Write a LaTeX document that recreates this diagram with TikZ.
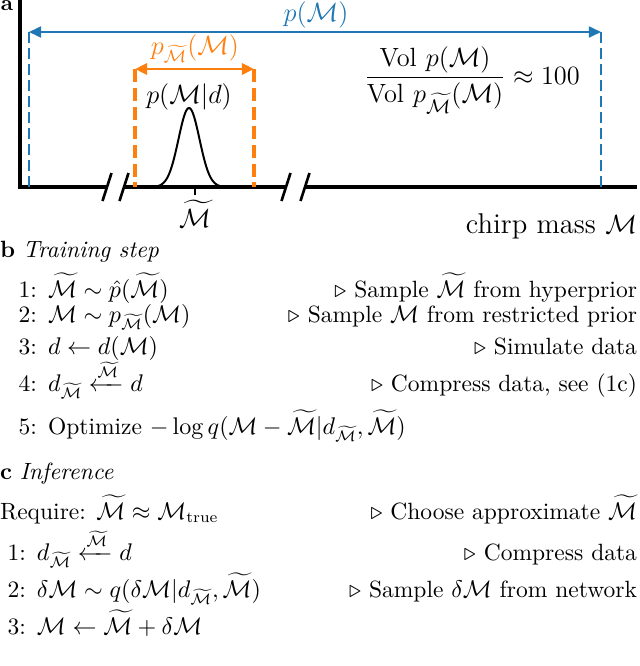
\documentclass[tikz,border=0pt]{standalone}
\usepackage{amsmath,amssymb}
\usetikzlibrary{arrows.meta}
\definecolor{mblue}{HTML}{1F77B4}
\definecolor{morange}{HTML}{FF7F0E}
\newcommand{\Mcal}{\mathcal{M}}
\newcommand{\Mtil}{\widetilde{\mathcal{M}}}
\tikzset{
  txt/.style={inner sep=0pt, outer sep=0pt},
  lft/.style={txt, anchor=base west},
  num/.style={txt, anchor=base east},
  cmt/.style={txt, anchor=base east},
  alg/.style={font=\fontsize{10.7}{13}\selectfont},
  plab/.style={font=\fontsize{11.5}{14}\selectfont},
  biglab/.style={font=\fontsize{13}{16}\selectfont},
  axisline/.style={line width=1.4pt},
  brk/.style={line width=1.2pt},
  bdash/.style={mblue, line width=0.9pt, dash pattern=on 5pt off 2.3pt},
  odash/.style={morange, line width=1.4pt, dash pattern=on 6pt off 2.6pt},
  tipA/.tip={Triangle[length=5.5pt,width=5pt]},
  barrow/.style={mblue, line width=0.9pt, tipA-tipA},
  oarrow/.style={morange, line width=1.35pt, tipA-tipA},
  curve/.style={line width=0.9pt},
}
\begin{document}
\begin{tikzpicture}[x=0.455pt,y=-0.455pt]
\useasboundingbox (0,0) rectangle (640,666);
% ---------- panel a ----------
\node[lft, font=\bfseries] (la) at (1,10) {a};
\coordinate (origin) at (20,187);
\coordinate (ytop) at (20,0);
\coordinate (xend) at (637,187);
\coordinate (g1a) at (107,187);
\coordinate (g1b) at (124,187);
\coordinate (g2a) at (286,187);
\coordinate (g2b) at (305,187);
\draw[axisline] (ytop) -- (origin) -- (g1a);
\draw[axisline] (g1b) -- (g2a);
\draw[axisline] (g2b) -- (xend);
\foreach \c in {g1a,g1b,g2a,g2b}{
  \draw[brk] ([shift={(-4.5,14)}]\c) -- ([shift={(4.5,-14)}]\c);
}
% blue prior
\coordinate (bL) at (29,32);
\coordinate (bR) at (601,32);
\coordinate (bLb) at (29,187);
\coordinate (bRb) at (601,187);
\draw[bdash] (bL) -- (bLb);
\draw[bdash] (bR) -- (bRb);
\draw[barrow] (bL) -- (bR);
\node[txt, plab, anchor=base, text=mblue] (pM) at (316,21) {$p(\Mcal)$};
% orange restricted prior
\coordinate (oL) at (135,69);
\coordinate (oR) at (254,69);
\coordinate (oLb) at (135,187);
\coordinate (oRb) at (254,187);
\draw[odash] (oL) -- (oLb);
\draw[odash] (oR) -- (oRb);
\draw[oarrow] (oL) -- (oR);
\node[txt, plab, anchor=base, text=morange] (pMt) at (195,54) {$p_{\Mtil}(\Mcal)$};
% gaussian
\draw[curve] plot[domain=152:226, samples=90] (\x,{187-79*exp(-((\x-189)/10.5)^2/2)});
\node[txt, plab, anchor=base] (post) at (189,103) {$p(\Mcal|d)$};
\coordinate (tk) at (195,187);
\coordinate (tkb) at (195,195);
\draw[line width=1pt] (tk) -- (tkb);
\node[txt, biglab, anchor=base] (mt) at (195,227) {$\Mtil$};
\node[txt, font=\fontsize{12.5}{15}\selectfont] (ratio) at (472,80)
  {$\displaystyle\frac{\mathrm{Vol}\ p(\Mcal)}{\mathrm{Vol}\ p_{\Mtil}(\Mcal)}\approx 100$};
\node[cmt, biglab] (chirp) at (637,233) {chirp mass $\Mcal$};
% ---------- panel b ----------
\begin{scope}[alg]
\node[lft] (tb) at (0,257) {\textbf{b} \textit{Training step}};
\node[num] (b1n) at (37,297) {1:};
\node[lft] (b1) at (48,297) {$\Mtil \sim \hat{p}(\Mtil)$};
\node[cmt] (b1c) at (637,297) {$\triangleright$ Sample $\Mtil$ from hyperprior};
\node[num] (b2n) at (37,322) {2:};
\node[lft] (b2) at (48,322) {$\Mcal \sim p_{\Mtil}(\Mcal)$};
\node[cmt] (b2c) at (637,322) {$\triangleright$ Sample $\Mcal$ from restricted prior};
\node[num] (b3n) at (37,354) {3:};
\node[lft] (b3) at (48,354) {$d \leftarrow d(\Mcal)$};
\node[cmt] (b3c) at (637,354) {$\triangleright$ Simulate data};
\node[num] (b4n) at (37,391) {4:};
\node[lft] (b4) at (48,391) {$d_{\Mtil} \xleftarrow{\Mtil} d$};
\node[cmt] (b4c) at (637,391) {$\triangleright$ Compress data, see (1c)};
\node[num] (b5n) at (37,434) {5:};
\node[lft] (b5) at (48,434) {Optimize $-\log q(\Mcal - \Mtil | d_{\Mtil}, \Mtil)$};
% ---------- panel c ----------
\node[lft] (tc) at (0,479) {\textbf{c} \textit{Inference}};
\node[lft] (c0) at (0,519) {Require: $\Mtil \approx \Mcal_{\mathrm{true}}$};
\node[cmt] (c0c) at (637,519) {$\triangleright$ Choose approximate $\Mtil$};
\node[num] (c1n) at (26,560) {1:};
\node[lft] (c1) at (37,560) {$d_{\Mtil} \xleftarrow{\Mtil} d$};
\node[cmt] (c1c) at (637,560) {$\triangleright$ Compress data};
\node[num] (c2n) at (26,597) {2:};
\node[lft] (c2) at (37,597) {$\delta\Mcal \sim q(\delta\Mcal | d_{\Mtil}, \Mtil)$};
\node[cmt] (c2c) at (637,597) {$\triangleright$ Sample $\delta\Mcal$ from network};
\node[num] (c3n) at (26,634) {3:};
\node[lft] (c3) at (37,634) {$\Mcal \leftarrow \Mtil + \delta\Mcal$};
\end{scope}
\end{tikzpicture}
\end{document}
